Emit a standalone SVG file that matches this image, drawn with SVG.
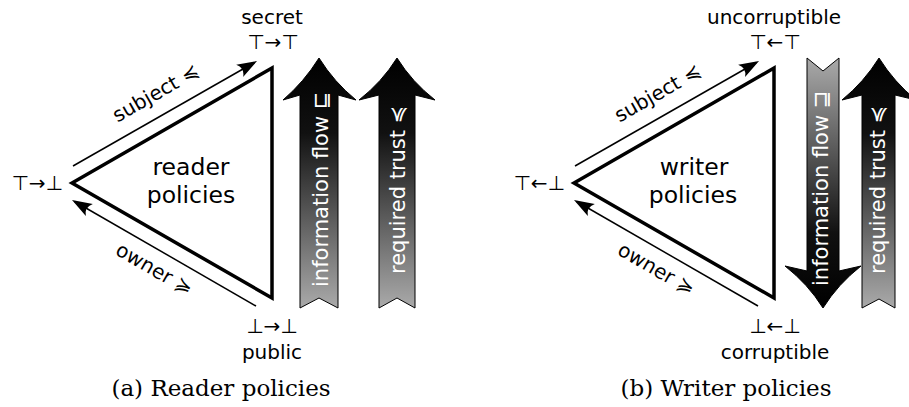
<svg xmlns="http://www.w3.org/2000/svg" width="909" height="407" viewBox="0 0 909 407">
<style>
.lbl{font-family:"DejaVu Sans",sans-serif;font-size:20px;fill:#000}
.mid{text-anchor:middle}
.end{text-anchor:end}
.big{font-family:"DejaVu Sans",sans-serif;font-size:23.5px;fill:#000;text-anchor:middle}
.cap{font-family:"DejaVu Serif",serif;font-size:23px;fill:#000;text-anchor:middle}
.arr{font-family:"DejaVu Sans",sans-serif;font-size:21px;fill:#fff}
.tri{fill:#fff;stroke:#000;stroke-width:3.5;stroke-linejoin:miter}
.thin{fill:none;stroke:#000;stroke-width:1.5}
.big-arrow{stroke:#000;stroke-width:1}
</style>
<defs>
<linearGradient id="gUp" x1="0" y1="0" x2="0" y2="1">
<stop offset="0" stop-color="#000"/>
<stop offset="0.3" stop-color="#111"/>
<stop offset="1" stop-color="#aaa"/>
</linearGradient>
<linearGradient id="gDown" x1="0" y1="0" x2="0" y2="1">
<stop offset="0" stop-color="#aaa"/>
<stop offset="0.7" stop-color="#111"/>
<stop offset="1" stop-color="#000"/>
</linearGradient>
<marker id="head" markerUnits="userSpaceOnUse" viewBox="-22 -8 26 16" markerWidth="26" markerHeight="16" refX="-3" refY="0" orient="auto">
<path d="M0,0 L-20,-7 Q-14,0 -20,7 Z" fill="#000"/>
</marker>
</defs>

<g id="reader-policies">
<polygon class="tri" points="72,183 272,68 272,298"/>
<text class="big" x="191" y="175">reader</text>
<text class="big" x="191" y="203">policies</text>
</g>
<g id="reader-labels">
<text class="lbl mid" x="272" y="24">secret</text>
<text class="lbl mid" x="273" y="49">⊤→⊤</text>
<text class="lbl end" x="63" y="190">⊤→⊥</text>
<text class="lbl mid" x="272" y="333">⊥→⊥</text>
<text class="lbl mid" x="272" y="359">public</text>
<text class="cap" x="221" y="396">(a) Reader policies</text>
</g>
<g id="reader-info-flow">
<path class="big-arrow" fill="url(#gUp)" d="M319,58 Q334,82 356,100 L338,95 L338,308 L319,298 L300,308 L300,95 L283,100 Q304,82 319,58 Z"/>
<text class="arr" transform="translate(328,287) rotate(-90)">information flow ⊑</text>
</g>
<g id="reader-required-trust">
<path class="big-arrow" fill="url(#gUp)" d="M397,58 Q412,82 435,100 L415,95 L415,308 L397,298 L379,308 L379,95 L359,100 Q382,82 397,58 Z"/>
<text class="arr" transform="translate(405,274) rotate(-90)">required trust ≼</text>
</g>

<g id="writer-policies">
<polygon class="tri" points="574,183 774,68 774,298"/>
<text class="big" x="694" y="175">writer</text>
<text class="big" x="693" y="203">policies</text>
</g>
<g id="writer-labels">
<text class="lbl mid" x="774" y="24">uncorruptible</text>
<text class="lbl mid" x="775" y="49">⊤←⊤</text>
<text class="lbl end" x="565" y="190">⊤←⊥</text>
<text class="lbl mid" x="775" y="333">⊥←⊥</text>
<text class="lbl mid" x="775" y="359">corruptible</text>
<text class="cap" x="726" y="396">(b) Writer policies</text>
</g>
<g id="writer-info-flow">
<path class="big-arrow" fill="url(#gDown)" d="M823,308 Q838,284 861,266 L839,271 L839,58 L823,71 L807,58 L807,271 L785,266 Q808,284 823,308 Z"/>
<text class="arr" transform="translate(828,286) rotate(-90)">information flow ⊒</text>
</g>
<g id="writer-required-trust">
<path class="big-arrow" fill="url(#gUp)" d="M879,58 Q894,82 916,100 L895,95 L895,308 L879,299 L862,308 L862,95 L842,100 Q864,82 879,58 Z"/>
<text class="arr" transform="translate(885,274) rotate(-90)">required trust ≼</text>
</g>

<g id="connectors">
<line class="thin" x1="73" y1="166" x2="254.4" y2="62.5" marker-end="url(#head)"/>
<line class="thin" x1="256" y1="306" x2="74.6" y2="201.5" marker-end="url(#head)"/>
<line class="thin" x1="575" y1="166" x2="756.4" y2="62.5" marker-end="url(#head)"/>
<line class="thin" x1="758" y1="306" x2="576.6" y2="201.5" marker-end="url(#head)"/>
<text class="lbl mid" transform="translate(159,99) rotate(-29.8)">subject ≼</text>
<text class="lbl mid" transform="translate(151,275) rotate(30)">owner ≽</text>
<text class="lbl mid" transform="translate(661,99) rotate(-29.8)">subject ≼</text>
<text class="lbl mid" transform="translate(653,275) rotate(30)">owner ≽</text>
</g>
</svg>
